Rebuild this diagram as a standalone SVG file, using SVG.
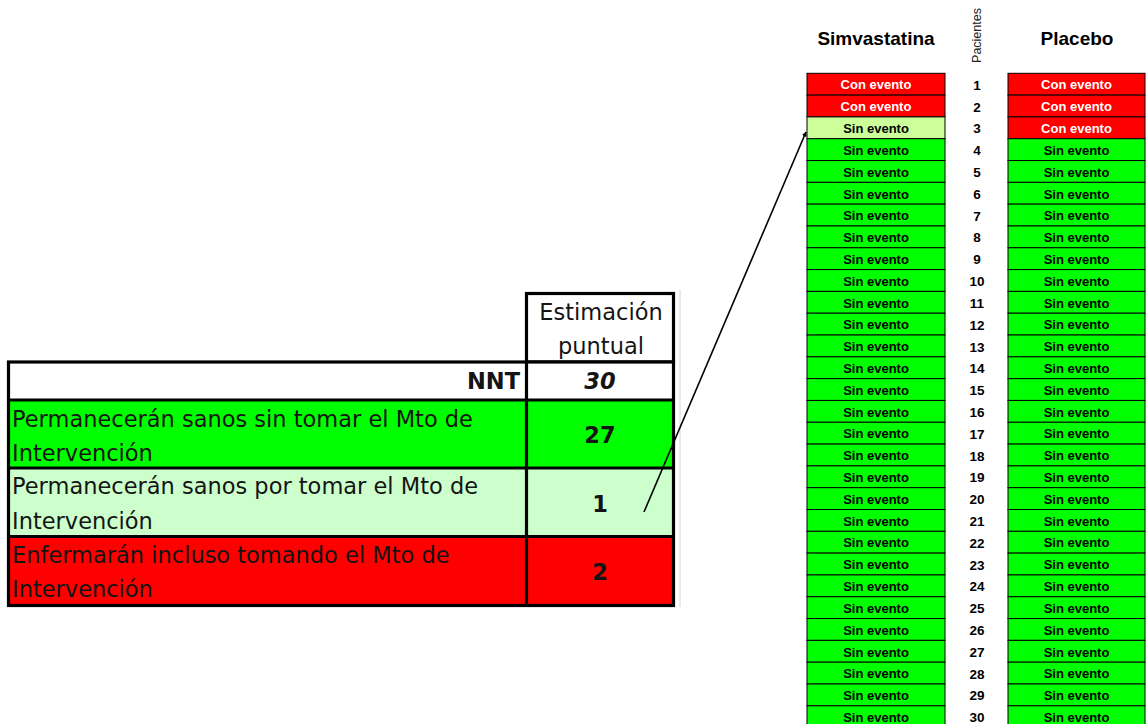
<svg xmlns="http://www.w3.org/2000/svg" width="1147" height="724" viewBox="0 0 1147 724">
<style>
.t{font-family:"DejaVu Sans",Verdana,sans-serif;font-size:22.5px;fill:#141414}
.tb{font-weight:bold}
.c{text-anchor:middle}
.bd{stroke:#000;stroke-width:3.2;fill:none}
.cell{stroke:#000;stroke-width:1}
.red{fill:#FF0000}
.grn{fill:#00FF00}
.lg{fill:#CCFF99}
.ct{font-family:"Liberation Sans",Arial,sans-serif;font-size:13px;font-weight:bold;text-anchor:middle}
.w{fill:#fff}
.k{fill:#000}
.hd{font-family:"Liberation Sans",Arial,sans-serif;font-size:19px;font-weight:bold;text-anchor:middle;fill:#000}
.num{font-family:"Liberation Sans",Arial,sans-serif;font-size:13.5px;font-weight:bold;text-anchor:middle;fill:#000}
</style>
<defs>
<marker id="ah" viewBox="0 0 10 10" refX="9" refY="5" markerWidth="5" markerHeight="5" orient="auto" markerUnits="userSpaceOnUse">
<path d="M0,0 L10,5 L0,10 z" fill="#000"/>
</marker>
</defs>
<rect width="1147" height="724" fill="#fff"/>

<g id="left-table">
<line x1="680" y1="290" x2="680" y2="607" stroke="#d4d4d4" stroke-width="1"/>
<g id="header-cell">
<rect x="526.5" y="293.5" width="147" height="68.5" fill="#fff" class="bd"/>
<text class="t c" x="601" y="320">Estimación</text>
<text class="t c" x="601" y="354">puntual</text>
</g>
<g id="row-nnt">
<rect x="8.5" y="362" width="665" height="38" fill="#fff"/>
<text class="t tb" x="520" y="389" text-anchor="end">NNT</text>
<text class="t tb c" x="600" y="389" font-style="italic">30</text>
</g>
<g id="row-sanos-sin">
<rect x="8.5" y="400" width="665" height="68" fill="#00FF00"/>
<text class="t" x="12" y="427">Permanecerán sanos sin tomar el Mto de</text>
<text class="t" x="12" y="461">Intervención</text>
<text class="t tb c" x="600" y="443">27</text>
</g>
<g id="row-sanos-por">
<rect x="8.5" y="468" width="665" height="68.5" fill="#CCFFCC"/>
<text class="t" x="12" y="494">Permanecerán sanos por tomar el Mto de</text>
<text class="t" x="12" y="529">Intervención</text>
<text class="t tb c" x="600" y="512">1</text>
</g>
<g id="row-enferman">
<rect x="8.5" y="536.5" width="665" height="69" fill="#FF0000"/>
<text class="t" x="12" y="563">Enfermarán incluso tomando el Mto de</text>
<text class="t" x="12" y="597">Intervención</text>
<text class="t tb c" x="600" y="580">2</text>
</g>
<rect x="8.5" y="362" width="665" height="243.5" class="bd"/>
<line x1="8.5" y1="400" x2="673.5" y2="400" class="bd"/>
<line x1="8.5" y1="468" x2="673.5" y2="468" class="bd"/>
<line x1="8.5" y1="536.5" x2="673.5" y2="536.5" class="bd"/>
<line x1="526.5" y1="362" x2="526.5" y2="605.5" class="bd"/>
</g>

<g id="headers">
<text class="hd" x="876" y="45">Simvastatina</text>
<text class="hd" x="1077" y="45">Placebo</text>
<text font-family="Liberation Sans, Arial, sans-serif" font-size="12.5" fill="#222" text-anchor="middle" transform="translate(981,35.5) rotate(-90)">Pacientes</text>
</g>

<g id="rows">
<g id="r1" transform="translate(0,73.3)"><rect x="807" y="0" width="138" height="21.81" class="cell red"/><text class="ct w" x="876" y="16.2">Con evento</text><text class="num" x="977" y="16.5">1</text><rect x="1008" y="0" width="137" height="21.81" class="cell red"/><text class="ct w" x="1076.5" y="16.2">Con evento</text></g>
<g id="r2" transform="translate(0,95.11)"><rect x="807" y="0" width="138" height="21.81" class="cell red"/><text class="ct w" x="876" y="16.2">Con evento</text><text class="num" x="977" y="16.5">2</text><rect x="1008" y="0" width="137" height="21.81" class="cell red"/><text class="ct w" x="1076.5" y="16.2">Con evento</text></g>
<g id="r3" transform="translate(0,116.92)"><rect x="807" y="0" width="138" height="21.81" class="cell lg"/><text class="ct k" x="876" y="16.2">Sin evento</text><text class="num" x="977" y="16.5">3</text><rect x="1008" y="0" width="137" height="21.81" class="cell red"/><text class="ct w" x="1076.5" y="16.2">Con evento</text></g>
<g id="r4" transform="translate(0,138.73)"><rect x="807" y="0" width="138" height="21.81" class="cell grn"/><text class="ct k" x="876" y="16.2">Sin evento</text><text class="num" x="977" y="16.5">4</text><rect x="1008" y="0" width="137" height="21.81" class="cell grn"/><text class="ct k" x="1076.5" y="16.2">Sin evento</text></g>
<g id="r5" transform="translate(0,160.54)"><rect x="807" y="0" width="138" height="21.81" class="cell grn"/><text class="ct k" x="876" y="16.2">Sin evento</text><text class="num" x="977" y="16.5">5</text><rect x="1008" y="0" width="137" height="21.81" class="cell grn"/><text class="ct k" x="1076.5" y="16.2">Sin evento</text></g>
<g id="r6" transform="translate(0,182.35)"><rect x="807" y="0" width="138" height="21.81" class="cell grn"/><text class="ct k" x="876" y="16.2">Sin evento</text><text class="num" x="977" y="16.5">6</text><rect x="1008" y="0" width="137" height="21.81" class="cell grn"/><text class="ct k" x="1076.5" y="16.2">Sin evento</text></g>
<g id="r7" transform="translate(0,204.16)"><rect x="807" y="0" width="138" height="21.81" class="cell grn"/><text class="ct k" x="876" y="16.2">Sin evento</text><text class="num" x="977" y="16.5">7</text><rect x="1008" y="0" width="137" height="21.81" class="cell grn"/><text class="ct k" x="1076.5" y="16.2">Sin evento</text></g>
<g id="r8" transform="translate(0,225.97)"><rect x="807" y="0" width="138" height="21.81" class="cell grn"/><text class="ct k" x="876" y="16.2">Sin evento</text><text class="num" x="977" y="16.5">8</text><rect x="1008" y="0" width="137" height="21.81" class="cell grn"/><text class="ct k" x="1076.5" y="16.2">Sin evento</text></g>
<g id="r9" transform="translate(0,247.78)"><rect x="807" y="0" width="138" height="21.81" class="cell grn"/><text class="ct k" x="876" y="16.2">Sin evento</text><text class="num" x="977" y="16.5">9</text><rect x="1008" y="0" width="137" height="21.81" class="cell grn"/><text class="ct k" x="1076.5" y="16.2">Sin evento</text></g>
<g id="r10" transform="translate(0,269.59)"><rect x="807" y="0" width="138" height="21.81" class="cell grn"/><text class="ct k" x="876" y="16.2">Sin evento</text><text class="num" x="977" y="16.5">10</text><rect x="1008" y="0" width="137" height="21.81" class="cell grn"/><text class="ct k" x="1076.5" y="16.2">Sin evento</text></g>
<g id="r11" transform="translate(0,291.4)"><rect x="807" y="0" width="138" height="21.81" class="cell grn"/><text class="ct k" x="876" y="16.2">Sin evento</text><text class="num" x="977" y="16.5">11</text><rect x="1008" y="0" width="137" height="21.81" class="cell grn"/><text class="ct k" x="1076.5" y="16.2">Sin evento</text></g>
<g id="r12" transform="translate(0,313.21)"><rect x="807" y="0" width="138" height="21.81" class="cell grn"/><text class="ct k" x="876" y="16.2">Sin evento</text><text class="num" x="977" y="16.5">12</text><rect x="1008" y="0" width="137" height="21.81" class="cell grn"/><text class="ct k" x="1076.5" y="16.2">Sin evento</text></g>
<g id="r13" transform="translate(0,335.02)"><rect x="807" y="0" width="138" height="21.81" class="cell grn"/><text class="ct k" x="876" y="16.2">Sin evento</text><text class="num" x="977" y="16.5">13</text><rect x="1008" y="0" width="137" height="21.81" class="cell grn"/><text class="ct k" x="1076.5" y="16.2">Sin evento</text></g>
<g id="r14" transform="translate(0,356.83)"><rect x="807" y="0" width="138" height="21.81" class="cell grn"/><text class="ct k" x="876" y="16.2">Sin evento</text><text class="num" x="977" y="16.5">14</text><rect x="1008" y="0" width="137" height="21.81" class="cell grn"/><text class="ct k" x="1076.5" y="16.2">Sin evento</text></g>
<g id="r15" transform="translate(0,378.64)"><rect x="807" y="0" width="138" height="21.81" class="cell grn"/><text class="ct k" x="876" y="16.2">Sin evento</text><text class="num" x="977" y="16.5">15</text><rect x="1008" y="0" width="137" height="21.81" class="cell grn"/><text class="ct k" x="1076.5" y="16.2">Sin evento</text></g>
<g id="r16" transform="translate(0,400.45)"><rect x="807" y="0" width="138" height="21.81" class="cell grn"/><text class="ct k" x="876" y="16.2">Sin evento</text><text class="num" x="977" y="16.5">16</text><rect x="1008" y="0" width="137" height="21.81" class="cell grn"/><text class="ct k" x="1076.5" y="16.2">Sin evento</text></g>
<g id="r17" transform="translate(0,422.26)"><rect x="807" y="0" width="138" height="21.81" class="cell grn"/><text class="ct k" x="876" y="16.2">Sin evento</text><text class="num" x="977" y="16.5">17</text><rect x="1008" y="0" width="137" height="21.81" class="cell grn"/><text class="ct k" x="1076.5" y="16.2">Sin evento</text></g>
<g id="r18" transform="translate(0,444.07)"><rect x="807" y="0" width="138" height="21.81" class="cell grn"/><text class="ct k" x="876" y="16.2">Sin evento</text><text class="num" x="977" y="16.5">18</text><rect x="1008" y="0" width="137" height="21.81" class="cell grn"/><text class="ct k" x="1076.5" y="16.2">Sin evento</text></g>
<g id="r19" transform="translate(0,465.88)"><rect x="807" y="0" width="138" height="21.81" class="cell grn"/><text class="ct k" x="876" y="16.2">Sin evento</text><text class="num" x="977" y="16.5">19</text><rect x="1008" y="0" width="137" height="21.81" class="cell grn"/><text class="ct k" x="1076.5" y="16.2">Sin evento</text></g>
<g id="r20" transform="translate(0,487.69)"><rect x="807" y="0" width="138" height="21.81" class="cell grn"/><text class="ct k" x="876" y="16.2">Sin evento</text><text class="num" x="977" y="16.5">20</text><rect x="1008" y="0" width="137" height="21.81" class="cell grn"/><text class="ct k" x="1076.5" y="16.2">Sin evento</text></g>
<g id="r21" transform="translate(0,509.5)"><rect x="807" y="0" width="138" height="21.81" class="cell grn"/><text class="ct k" x="876" y="16.2">Sin evento</text><text class="num" x="977" y="16.5">21</text><rect x="1008" y="0" width="137" height="21.81" class="cell grn"/><text class="ct k" x="1076.5" y="16.2">Sin evento</text></g>
<g id="r22" transform="translate(0,531.31)"><rect x="807" y="0" width="138" height="21.81" class="cell grn"/><text class="ct k" x="876" y="16.2">Sin evento</text><text class="num" x="977" y="16.5">22</text><rect x="1008" y="0" width="137" height="21.81" class="cell grn"/><text class="ct k" x="1076.5" y="16.2">Sin evento</text></g>
<g id="r23" transform="translate(0,553.12)"><rect x="807" y="0" width="138" height="21.81" class="cell grn"/><text class="ct k" x="876" y="16.2">Sin evento</text><text class="num" x="977" y="16.5">23</text><rect x="1008" y="0" width="137" height="21.81" class="cell grn"/><text class="ct k" x="1076.5" y="16.2">Sin evento</text></g>
<g id="r24" transform="translate(0,574.93)"><rect x="807" y="0" width="138" height="21.81" class="cell grn"/><text class="ct k" x="876" y="16.2">Sin evento</text><text class="num" x="977" y="16.5">24</text><rect x="1008" y="0" width="137" height="21.81" class="cell grn"/><text class="ct k" x="1076.5" y="16.2">Sin evento</text></g>
<g id="r25" transform="translate(0,596.74)"><rect x="807" y="0" width="138" height="21.81" class="cell grn"/><text class="ct k" x="876" y="16.2">Sin evento</text><text class="num" x="977" y="16.5">25</text><rect x="1008" y="0" width="137" height="21.81" class="cell grn"/><text class="ct k" x="1076.5" y="16.2">Sin evento</text></g>
<g id="r26" transform="translate(0,618.55)"><rect x="807" y="0" width="138" height="21.81" class="cell grn"/><text class="ct k" x="876" y="16.2">Sin evento</text><text class="num" x="977" y="16.5">26</text><rect x="1008" y="0" width="137" height="21.81" class="cell grn"/><text class="ct k" x="1076.5" y="16.2">Sin evento</text></g>
<g id="r27" transform="translate(0,640.36)"><rect x="807" y="0" width="138" height="21.81" class="cell grn"/><text class="ct k" x="876" y="16.2">Sin evento</text><text class="num" x="977" y="16.5">27</text><rect x="1008" y="0" width="137" height="21.81" class="cell grn"/><text class="ct k" x="1076.5" y="16.2">Sin evento</text></g>
<g id="r28" transform="translate(0,662.17)"><rect x="807" y="0" width="138" height="21.81" class="cell grn"/><text class="ct k" x="876" y="16.2">Sin evento</text><text class="num" x="977" y="16.5">28</text><rect x="1008" y="0" width="137" height="21.81" class="cell grn"/><text class="ct k" x="1076.5" y="16.2">Sin evento</text></g>
<g id="r29" transform="translate(0,683.98)"><rect x="807" y="0" width="138" height="21.81" class="cell grn"/><text class="ct k" x="876" y="16.2">Sin evento</text><text class="num" x="977" y="16.5">29</text><rect x="1008" y="0" width="137" height="21.81" class="cell grn"/><text class="ct k" x="1076.5" y="16.2">Sin evento</text></g>
<g id="r30" transform="translate(0,705.79)"><rect x="807" y="0" width="138" height="21.81" class="cell grn"/><text class="ct k" x="876" y="16.2">Sin evento</text><text class="num" x="977" y="16.5">30</text><rect x="1008" y="0" width="137" height="21.81" class="cell grn"/><text class="ct k" x="1076.5" y="16.2">Sin evento</text></g>
</g>

<g id="connectors">
<line x1="644" y1="512" x2="806" y2="132" stroke="#000" stroke-width="1.6" marker-end="url(#ah)"/>
</g>
</svg>
